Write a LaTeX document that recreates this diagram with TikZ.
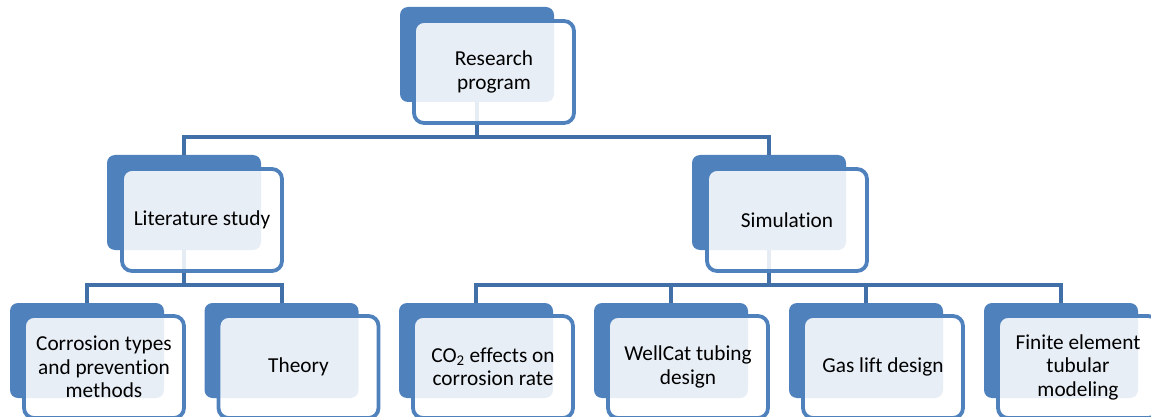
\documentclass[tikz,border=0pt]{standalone}
\usepackage{fontspec}
\setmainfont{Carlito}[Ligatures={NoCommon}]
\definecolor{accent}{HTML}{4F81BD}
\definecolor{connc}{HTML}{4170A8}
\tikzset{
  backbox/.style={fill=accent, rounded corners=8pt, minimum width=154pt, minimum height=95pt, inner sep=0pt, outer sep=0pt, anchor=north west},
  frontbox/.style={draw=accent, line width=3.8pt, fill=white, fill opacity=0.87, text opacity=1, rounded corners=10pt, minimum width=160pt, minimum height=102pt, inner sep=0pt, outer sep=0pt, anchor=north west, align=center, font=\fontsize{21.3}{23.5}\selectfont, text=black},
  conn/.style={draw=connc, line width=4pt}
}
\begin{document}
\begin{tikzpicture}[x=1pt, y=-1pt]
\useasboundingbox (0,0) rectangle (1151,417);
% back boxes
\node[backbox] (rpb) at (400,7) {};
\node[backbox] (litb) at (107,155) {};
\node[backbox] (simb) at (692,155) {};
\node[backbox] (corb) at (10,303) {};
\node[backbox] (thb) at (204.5,303) {};
\node[backbox] (co2b) at (399,303) {};
\node[backbox] (wcb) at (594,303) {};
\node[backbox] (glb) at (789,303) {};
\node[backbox] (feb) at (984,303) {};
% connectors
\draw[conn] (rpb.south) -- (rpb.south |- 0,137.5) -| (litb.north);
\draw[conn] (rpb.south) -- (rpb.south |- 0,137.5) -| (simb.north);
\draw[conn] (litb.south) -- (litb.south |- 0,285) -| (corb.north);
\draw[conn] (litb.south) -- (litb.south |- 0,285) -| (thb.north);
\draw[conn] (simb.south) -- (simb.south |- 0,285) -| (co2b.north);
\draw[conn] (simb.south) -- (simb.south |- 0,285) -| (wcb.north);
\draw[conn] (simb.south) -- (simb.south |- 0,285) -| (glb.north);
\draw[conn] (simb.south) -- (simb.south |- 0,285) -| (feb.north);
% front boxes
\node[frontbox] (rp) at (414,21) {Research\\program};
\node[frontbox] (lit) at (122,169) {Literature study};
\node[frontbox] (sim) at (707,169) {Simulation};
\node[frontbox] (cor) at (24,316) {Corrosion types\\and prevention\\methods};
\node[frontbox] (th) at (218.5,316) {Theory};
\node[frontbox] (co2) at (413,316) {CO\textsubscript{2} effects on\\corrosion rate};
\node[frontbox] (wc) at (608,316) {WellCat tubing\\design};
\node[frontbox] (gl) at (803,316) {Gas lift design};
\node[frontbox] (fe) at (998,316) {Finite element\\tubular\\modeling};
\end{tikzpicture}
\end{document}
